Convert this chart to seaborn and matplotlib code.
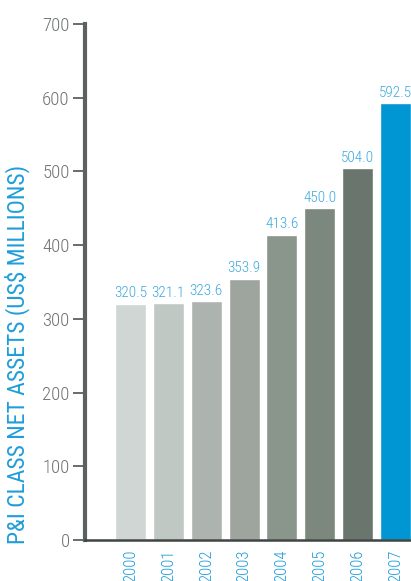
import matplotlib
matplotlib.use("Agg")
import matplotlib.pyplot as plt
import seaborn as sns
import pandas as pd

years = ["2000", "2001", "2002", "2003", "2004", "2005", "2006", "2007"]
net_assets = [320.5, 321.1, 323.6, 353.9, 413.6, 450.0, 504.0, 592.5]
value_labels = ["320.5", "321.1", "323.6", "353.9", "413.6", "450.0", "504.0", "592.5"]
bar_colors = ["#d0d6d3", "#c0c8c4", "#adb4b0", "#9ea59f", "#8a958c",
              "#7c877e", "#6a756d", "#0095d3"]
y_ticks = [0, 100, 200, 300, 400, 500, 600, 700]

sns.set_theme(style="white")
plt.rcParams["font.family"] = ["Roboto Condensed", "DejaVu Sans"]
plt.rcParams["font.weight"] = "light"

blue_text = "#1f9ed9"
grey_text = "#6e726f"
spine_col = "#5a625d"

df = pd.DataFrame({"year": years, "assets": net_assets})

fig = plt.figure(figsize=(4.11, 5.81), dpi=100)
ax = fig.add_axes([85 / 411, 41 / 581, 1 - 85 / 411, 516 / 581])

sns.barplot(data=df, x="year", y="assets", hue="year", palette=bar_colors,
            width=0.82, legend=False, ax=ax, saturation=1)

ax.set_ylim(0, 700)
ax.set_xlim(-1.2, 7.41)
ax.set_yticks(y_ticks)
ax.set_yticklabels([str(t) for t in y_ticks], fontsize=13.5, color=grey_text)
ax.tick_params(axis="y", length=9, width=1.3, color=spine_col, pad=2, left=True)
ax.tick_params(axis="x", length=0, pad=7)
for lbl in ax.get_xticklabels():
    lbl.set_rotation(90)
    lbl.set_va("top")
    lbl.set_color(blue_text)
    lbl.set_fontsize(12)

ax.set_xlabel("")
ax.set_ylabel("P&I CLASS NET ASSETS (US$ MILLIONS)", fontsize=17,
              color=blue_text)
ax.yaxis.set_label_coords(-0.17, 0.36)

for side in ["top", "right"]:
    ax.spines[side].set_visible(False)
ax.spines["left"].set_color(spine_col)
ax.spines["left"].set_linewidth(3)
ax.spines["bottom"].set_color("#3f4542")
ax.spines["bottom"].set_linewidth(1.8)

for i, (v, t) in enumerate(zip(net_assets, value_labels)):
    ax.text(i, v + 5, t, ha="center", va="bottom", fontsize=11,
            color="#3aa8de")

fig.savefig("out.png", dpi=100)
